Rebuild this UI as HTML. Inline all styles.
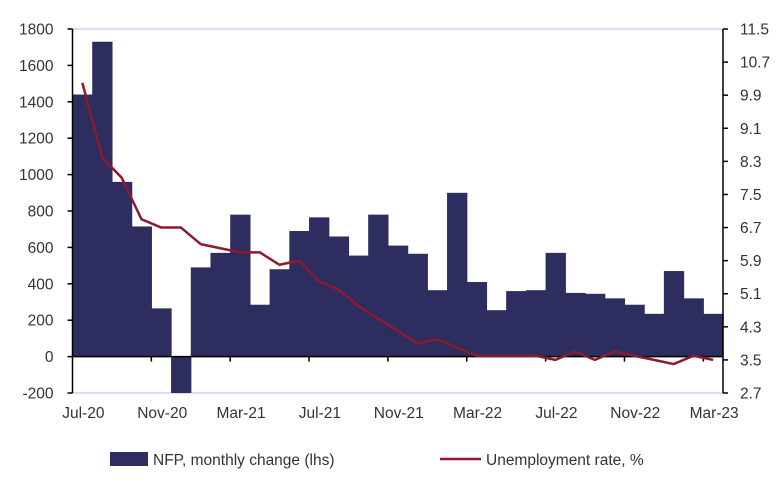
<!DOCTYPE html>
<html><head><meta charset="utf-8"><style>
body{margin:0;background:#fff;}
svg text{font-family:"Liberation Sans",sans-serif;font-size:15.5px;fill:#333;}
</style></head><body>
<svg id="c" width="776" height="477" xmlns="http://www.w3.org/2000/svg"></svg>
<script>
const months=["Jul-20","Aug-20","Sep-20","Oct-20","Nov-20","Dec-20","Jan-21","Feb-21","Mar-21","Apr-21","May-21","Jun-21","Jul-21","Aug-21","Sep-21","Oct-21","Nov-21","Dec-21","Jan-22","Feb-22","Mar-22","Apr-22","May-22","Jun-22","Jul-22","Aug-22","Sep-22","Oct-22","Nov-22","Dec-22","Jan-23","Feb-23","Mar-23"];
const nfp=[1440,1730,960,715,265,-210,490,570,780,285,480,690,765,660,555,780,610,565,365,900,410,255,360,365,570,350,345,320,285,235,470,320,235];
const unemp=[10.2,8.4,7.9,6.9,6.7,6.7,6.3,6.2,6.1,6.1,5.8,5.9,5.4,5.2,4.8,4.5,4.2,3.9,4.0,3.8,3.6,3.6,3.6,3.6,3.5,3.7,3.5,3.7,3.6,3.5,3.4,3.6,3.5];
const leftTicks=[-200,0,200,400,600,800,1000,1200,1400,1600,1800];
const rightTicks=[2.7,3.5,4.3,5.1,5.9,6.7,7.5,8.3,9.1,9.9,10.7,11.5];
const ns="http://www.w3.org/2000/svg",svg=document.getElementById('c');
const X0=72.5,X1=723,YT=29,YB=393;
const bw=(X1-X0)/months.length;
const yL=v=>YB-(v+200)/2000*(YB-YT);
const yR=v=>YB-(v-2.7)/8.8*(YB-YT);
const xC=i=>X0+bw*(i+0.5);
function mk(t,a,p){const e=document.createElementNS(ns,t);for(const k in a)e.setAttribute(k,a[k]);(p||svg).appendChild(e);return e;}
let g=mk('line',{x1:X0,x2:X1,y1:YT,y2:YT,stroke:'#d0d0ee','stroke-width':1.5});


g=mk('line',{x1:X0,x2:X1,y1:YB,y2:YB,stroke:'#d0d0ee','stroke-width':1.5});


nfp.forEach((v,i)=>{const y0=yL(0),y=yL(Math.max(v,-200));
 const r=mk('rect',{x:X0+bw*i,y:Math.min(y,y0),width:bw+0.6,height:Math.abs(y-y0),fill:'#2d2d5f'});
 
 });
let a=mk('line',{x1:X0,x2:X0,y1:YT,y2:YB,stroke:'#000','stroke-width':1.5});


a=mk('line',{x1:X1,x2:X1,y1:YT,y2:YB,stroke:'#000','stroke-width':1.5});


a=mk('line',{x1:X0,x2:X1,y1:yL(0),y2:yL(0),stroke:'#000','stroke-width':1.5});


leftTicks.forEach(v=>{mk('line',{x1:X0-5,x2:X0,y1:yL(v),y2:yL(v),stroke:'#000','stroke-width':1.5});
 const t=mk('text',{x:X0-19,y:yL(v)+5.5,'text-anchor':'end'});t.textContent=v;
 
 });
rightTicks.forEach(v=>{mk('line',{x1:X1,x2:X1+5,y1:yR(v),y2:yR(v),stroke:'#000','stroke-width':1.5});
 const t=mk('text',{x:X1+17,y:yR(v)+5.5});t.textContent=v.toFixed(1);
 
 });
months.forEach((m,i)=>{if(i%4)return;
 if(i>0)mk('line',{x1:X0+bw*i,x2:X0+bw*i,y1:yL(0),y2:yL(0)+5,stroke:'#000','stroke-width':1.5});
 const t=mk('text',{x:xC(i)+1,y:418,'text-anchor':'middle'});t.textContent=m;
 
 });
const ln=mk('polyline',{points:unemp.map((v,i)=>xC(i)+','+yR(v)).join(' '),fill:'none',stroke:'#8b1a32','stroke-width':2.5,'stroke-linejoin':'round'});


const lg=mk('g',{});


let e=mk('rect',{x:110,y:452,width:38,height:14,fill:'#2d2d5f'},lg);


e=mk('text',{x:153,y:465},lg);e.textContent='NFP, monthly change (lhs)';


e=mk('line',{x1:440,x2:481,y1:459,y2:459,stroke:'#8b1a32','stroke-width':2.5},lg);


e=mk('text',{x:486,y:465},lg);e.textContent='Unemployment rate, %';


</script>
</body></html>
